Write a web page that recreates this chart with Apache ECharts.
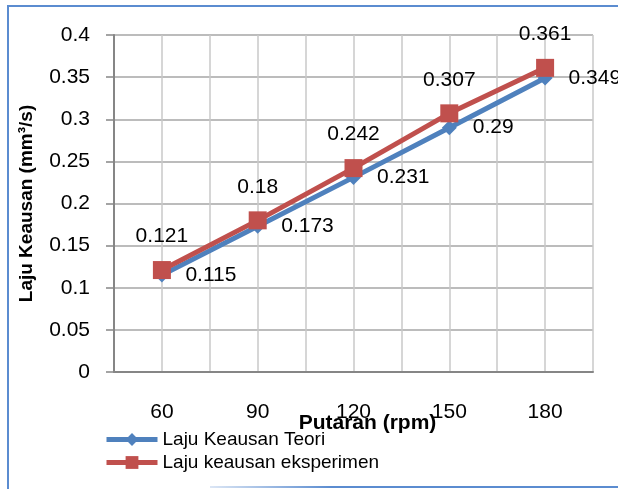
<!DOCTYPE html>
<html>
<head>
<meta charset="utf-8">
<script src="https://cdn.jsdelivr.net/npm/echarts@6/dist/echarts.min.js"></script>
<style>
html,body{margin:0;padding:0;background:#fff;}
#c{width:618px;height:489px;}
</style>
</head>
<body>
<div id="c"></div>
<script>
const putaran = [60, 90, 120, 150, 180];
const teori = [0.115, 0.173, 0.231, 0.29, 0.349];
const eksperimen = [0.121, 0.18, 0.242, 0.307, 0.361];
const seriesNames = ['Laju Keausan Teori', 'Laju keausan eksperimen'];
const xLabelValues = [60, 90, 120, 150, 180];

const FONT = '"Liberation Sans", Arial, sans-serif';
const chart = echarts.init(document.getElementById('c'), null, {renderer: 'canvas'});

chart.setOption({
  backgroundColor: '#fff',
  animation: false,
  grid: {left: 114, right: 25, top: 35, bottom: 117, containLabel: false},
  graphic: [
    {type: 'line', shape: {x1: 8, y1: 5, x2: 8, y2: 489}, style: {stroke: '#5b8cd0', lineWidth: 2}, z: 100},
    {type: 'line', shape: {x1: 7, y1: 6, x2: 618, y2: 6}, style: {stroke: '#5b8cd0', lineWidth: 2}, z: 100},
    {type: 'line', shape: {x1: 210, y1: 487, x2: 618, y2: 487},
     style: {stroke: new echarts.graphic.LinearGradient(0, 0, 1, 0, [{offset: 0, color: 'rgba(91,140,208,0.2)'}, {offset: 0.3, color: '#5b8cd0'}, {offset: 1, color: '#5b8cd0'}]), lineWidth: 2}, z: 100}
  ],
  legend: {
    orient: 'vertical',
    left: 99,
    top: 425,
    itemWidth: 51,
    itemHeight: 16,
    itemGap: 4,
    data: seriesNames,
    lineStyle: {width: 5},
    textStyle: {fontFamily: FONT, fontSize: 19, color: '#000', lineHeight: 19}
  },
  xAxis: {
    type: 'value',
    min: 45,
    max: 195,
    interval: 15,
    name: 'Putaran (rpm)',
    nameLocation: 'middle',
    nameGap: 41,
    nameMoveOverlap: false,
    nameTextStyle: {fontFamily: FONT, fontSize: 21, fontWeight: 'bold', color: '#000', padding: [0, 0, 0, 28]},
    axisLine: {show: true, onZero: false, lineStyle: {color: '#868686', width: 2}},
    axisTick: {show: false},
    axisLabel: {
      margin: 30,
      fontFamily: FONT, fontSize: 21, color: '#000',
      showMinLabel: true, showMaxLabel: true,
      formatter: function (v) { return xLabelValues.indexOf(v) >= 0 ? String(v) : ''; }
    },
    splitLine: {show: true, lineStyle: {color: '#c8c8c8', width: 1.5}}
  },
  yAxis: {
    type: 'value',
    min: 0,
    max: 0.4,
    interval: 0.05,
    name: 'Laju Keausan (mm³/s)',
    nameLocation: 'middle',
    nameGap: 78,
    nameTextStyle: {fontFamily: FONT, fontSize: 19, fontWeight: 'bold', color: '#000'},
    axisLine: {show: true, lineStyle: {color: '#868686', width: 2}},
    axisTick: {show: true, length: 8, lineStyle: {color: '#868686', width: 1.5}},
    axisLabel: {margin: 24, fontFamily: FONT, fontSize: 21, color: '#000'},
    splitLine: {show: true, lineStyle: {color: '#a6a6a6', width: 1.5}}
  },
  series: [
    {
      name: seriesNames[0],
      type: 'line',
      data: putaran.map((x, i) => [x, teori[i]]),
      symbol: 'diamond',
      symbolSize: 15,
      lineStyle: {color: '#4f81bd', width: 5},
      itemStyle: {color: '#4f81bd'},
      label: {show: true, position: 'right', distance: 16, fontFamily: FONT, fontSize: 21, color: '#000'},
      z: 3
    },
    {
      name: seriesNames[1],
      type: 'line',
      data: putaran.map((x, i) => [x, eksperimen[i]]),
      symbol: 'rect',
      symbolSize: 18,
      lineStyle: {color: '#c0504d', width: 5},
      itemStyle: {color: '#c0504d'},
      label: {show: true, position: 'top', distance: 14, fontFamily: FONT, fontSize: 21, color: '#000'},
      z: 4
    }
  ]
});
</script>
</body>
</html>
